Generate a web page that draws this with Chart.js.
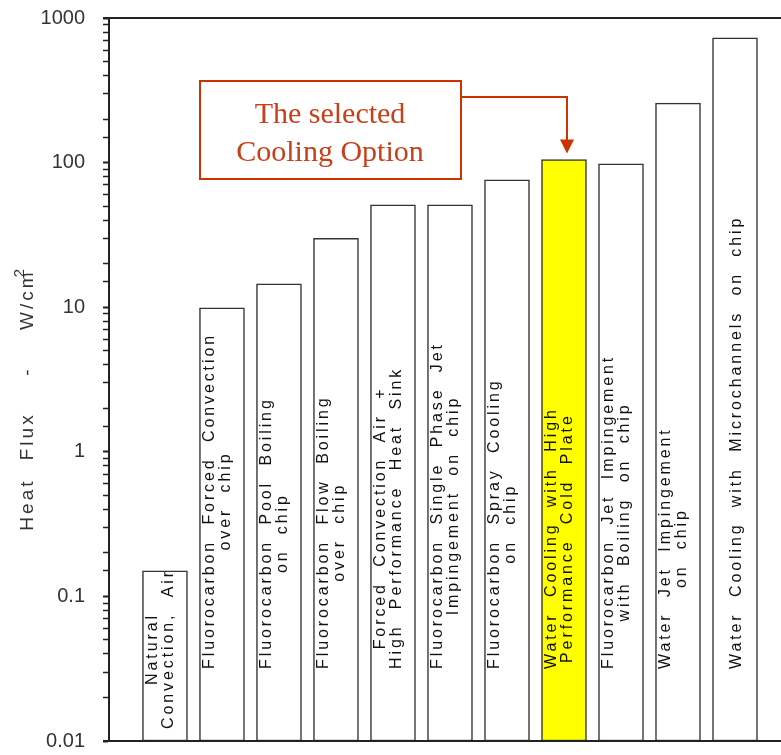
<!DOCTYPE html>
<html>
<head>
<meta charset="utf-8">
<script src="https://cdn.jsdelivr.net/npm/chart.js@4.4.1/dist/chart.umd.min.js"></script>
<style>
  html, body { margin: 0; padding: 0; background: #fff; }
  #wrap { width: 781px; height: 755px; position: relative; }
</style>
</head>
<body>
<div id="wrap"><canvas id="fluxChart"></canvas></div>
<script>
// cooling options, each label split into the lines drawn inside the bar
const barLabels = [
    ['Natural', 'Convection, Air'],
    ['Fluorocarbon Forced Convection', 'over chip'],
    ['Fluorocarbon Pool Boiling', 'on chip'],
    ['Fluorocarbon Flow Boiling', 'over chip'],
    ['Forced Convection Air +', 'High Performance Heat Sink'],
    ['Fluorocarbon Single Phase Jet', 'Impingement on chip'],
    ['Fluorocarbon Spray Cooling', 'on chip'],
    ['Water Cooling with High', 'Performance Cold Plate'],
    ['Fluorocarbon Jet Impingement', 'with Boiling on chip'],
    ['Water Jet Impingement', 'on chip'],
    ['Water Cooling with Microchannels on chip']
];

// heat flux, W/cm2
const heatFlux = [0.15, 9.9, 14.5, 30, 51, 51, 76, 105, 98, 258, 730];

// which option is highlighted
const selectedIndex = 7;

// labels for the decades on the y axis
const yTickLabels = ['0.01', '0.1', '1', '10', '100', '1000'];

const annotationLines = ['The selected', 'Cooling Option'];

const sans = '"Liberation Sans", Arial, sans-serif';

// draws frame lines, bar texts, the axis title and the callout box
const overlay = {
    id: 'overlay',
    afterDatasetsDraw(chart) {
        const ctx = chart.ctx;
        const a = chart.chartArea;
        const meta = chart.getDatasetMeta(0);
        ctx.save();

        // top and bottom lines of the plot frame
        ctx.strokeStyle = '#222';
        ctx.lineWidth = 2;
        ctx.beginPath();
        ctx.moveTo(a.left - 6, a.top);
        ctx.lineTo(a.right, a.top);
        ctx.moveTo(a.left - 6, a.bottom);
        ctx.lineTo(a.right, a.bottom);
        ctx.stroke();

        // text inside the bars, rotated
        ctx.fillStyle = '#111';
        ctx.font = '16px ' + sans;
        ctx.letterSpacing = '2.9px';
        ctx.wordSpacing = '8px';
        ctx.textAlign = 'left';
        ctx.textBaseline = 'alphabetic';
        meta.data.forEach((bar, i) => {
            const lines = barLabels[i];
            const widths = lines.map(l => ctx.measureText(l).width);
            const w = Math.max(...widths);
            let end = a.bottom - 72;
            if (end - w < bar.y + 6) end = a.bottom - 12;
            lines.forEach((line, k) => {
                let bx;
                if (lines.length === 1) bx = bar.x + 6;
                else bx = bar.x - 8 + k * 16;
                ctx.save();
                ctx.translate(bx, end - (w - widths[k]) / 2);
                ctx.rotate(-Math.PI / 2);
                ctx.fillText(line, 0, 0);
                ctx.restore();
            });
        });

        // y axis title
        ctx.font = '19px ' + sans;
        ctx.letterSpacing = '3px';
        ctx.wordSpacing = '10px';
        const title = 'Heat Flux  -  W/cm';
        const tw = ctx.measureText(title).width;
        ctx.save();
        ctx.translate(33, 400 + tw / 2);
        ctx.rotate(-Math.PI / 2);
        ctx.fillStyle = '#333';
        ctx.fillText(title, 0, 0);
        ctx.font = '15px ' + sans;
        ctx.letterSpacing = '0px';
        ctx.fillText('2', tw - 8, -9);
        ctx.restore();

        // callout box with arrow to the selected bar
        ctx.letterSpacing = '0px';
        ctx.wordSpacing = '0px';
        const red = '#cc3300';
        ctx.strokeStyle = red;
        ctx.lineWidth = 2;
        ctx.strokeRect(200, 81, 261, 98);
        ctx.fillStyle = '#c8401a';
        ctx.font = '30px "Liberation Serif", "Times New Roman", serif';
        ctx.textAlign = 'center';
        ctx.fillText(annotationLines[0], 330, 123);
        ctx.fillText(annotationLines[1], 330, 161);

        const sel = meta.data[selectedIndex];
        const tipX = sel.x + 3;
        const tipY = sel.y - 6;
        ctx.beginPath();
        ctx.moveTo(461, 97);
        ctx.lineTo(tipX, 97);
        ctx.lineTo(tipX, tipY - 12);
        ctx.stroke();
        ctx.fillStyle = red;
        ctx.beginPath();
        ctx.moveTo(tipX - 7, tipY - 14);
        ctx.lineTo(tipX + 7, tipY - 14);
        ctx.lineTo(tipX, tipY);
        ctx.closePath();
        ctx.fill();

        ctx.restore();
    }
};

const isDecade = v => Math.abs(Math.log10(v) - Math.round(Math.log10(v))) < 1e-6;

const ctx = document.getElementById('fluxChart').getContext('2d');
const fluxChart = new Chart(ctx, {
    type: 'bar',
    data: {
        datasets: [{
            data: heatFlux.map((v, i) => ({ x: i, y: v })),
            backgroundColor: heatFlux.map((v, i) => i === selectedIndex ? '#ffff00' : '#ffffff'),
            borderColor: '#333',
            borderWidth: 1.5,
            borderSkipped: false,
            barThickness: 45
        }]
    },
    options: {
        responsive: true,
        maintainAspectRatio: false,
        animation: false,
        layout: { padding: { top: 18, bottom: 14, left: 0, right: 0 } },
        plugins: {
            legend: { display: false },
            tooltip: { enabled: false }
        },
        scales: {
            x: {
                type: 'linear',
                display: false,
                offset: false,
                min: -0.982,
                max: 10.807
            },
            y: {
                type: 'logarithmic',
                min: 0.01,
                max: 1000,
                border: { display: true, color: '#222', width: 2 },
                grid: {
                    drawOnChartArea: false,
                    drawTicks: true,
                    tickLength: 6,
                    tickColor: '#222',
                    tickWidth: c => (c.tick && isDecade(c.tick.value)) ? 2 : 1.5
                },
                ticks: {
                    autoSkip: false,
                    padding: 18,
                    color: '#333',
                    font: { family: sans, size: 20 },
                    callback: v => isDecade(v) ? yTickLabels[Math.round(Math.log10(v)) + 2] : ''
                },
                afterFit(scale) {
                    scale.width = 109;
                    scale.paddingTop = 0;
                    scale.paddingBottom = 0;
                }
            }
        }
    },
    plugins: [overlay]
});
</script>
</body>
</html>
